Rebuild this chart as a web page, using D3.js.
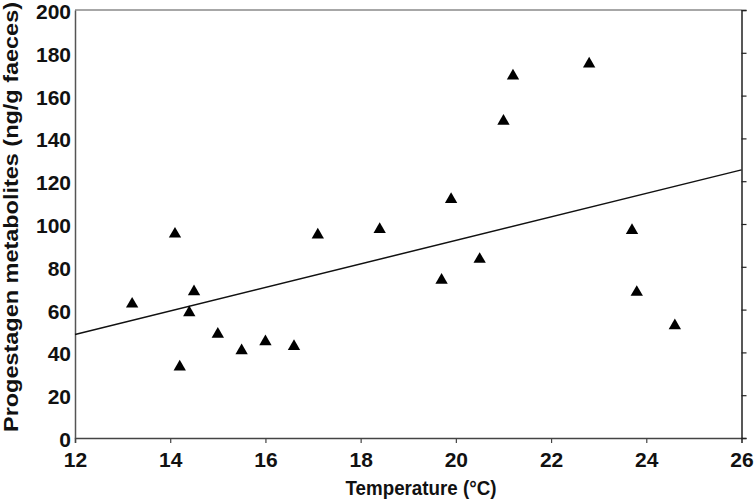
<!DOCTYPE html>
<html>
<head>
<meta charset="utf-8">
<script src="https://cdn.jsdelivr.net/npm/d3@7"></script>
<style>
  body { margin: 0; background: #fff; }
  svg { display: block; font-family: "Liberation Sans", Arial, sans-serif; }
  .tick-label { font-size: 21px; font-weight: bold; fill: #111; }
  .axis-title { font-size: 20px; font-weight: bold; fill: #111; }
</style>
</head>
<body>
<svg id="chart" width="756" height="501"></svg>
<script>
// temperature (°C) per sample
const temps = [13.2, 14.1, 14.2, 14.4, 14.5, 15.0, 15.5, 16.0, 16.6, 17.1,
               18.4, 19.7, 19.9, 20.5, 21.0, 21.2, 22.8, 23.7, 23.8, 24.6];
// progestagen metabolites (ng/g faeces)
const progestagen = [62.6, 95.3, 33.2, 58.6, 68.4, 48.5, 40.8, 45.0, 42.8, 94.9,
                     97.5, 73.8, 111.5, 83.5, 148.1, 169.2, 174.8, 97.0, 68.1, 52.5];
// regression line end values at x = 12 and x = 26
const fitX = [12, 26];
const fitY = [48.4, 125.3];
const xTicks = [12, 14, 16, 18, 20, 22, 24, 26];
const yTicks = [0, 20, 40, 60, 80, 100, 120, 140, 160, 180, 200];

const margin = { top: 10, right: 14, bottom: 63, left: 75 };
const width = 756, height = 501;

const svg = d3.select("#chart");

const x = d3.scaleLinear().domain([12, 26]).range([margin.left, width - margin.right - 0.5]);
const y = d3.scaleLinear().domain([0, 200]).range([height - margin.bottom, margin.top]);

// top frame line (grey)
svg.append("line")
  .attr("x1", x(12)).attr("x2", x(26))
  .attr("y1", y(200)).attr("y2", y(200))
  .attr("stroke", "#8a8a8a").attr("stroke-width", 1.5);

// bottom axis
const xAxis = svg.append("g")
  .attr("transform", `translate(0,${y(0)})`)
  .call(d3.axisBottom(x).tickValues(xTicks).tickSize(5).tickPadding(9).tickFormat(d3.format("d")));
xAxis.select(".domain").attr("stroke", "#444").attr("stroke-width", 1.5);
xAxis.selectAll(".tick line").attr("stroke", "#444").attr("stroke-width", 1.2);
xAxis.selectAll(".tick text").attr("class", "tick-label").attr("font-size", null).attr("font-family", null);

// left axis (labels, no ticks)
const yAxis = svg.append("g")
  .attr("transform", `translate(${x(12)},0)`)
  .call(d3.axisLeft(y).tickValues(yTicks).tickSize(0).tickPadding(4).tickFormat(d3.format("d")));
yAxis.select(".domain").attr("stroke", "#555").attr("stroke-width", 1.5);
yAxis.selectAll(".tick text").attr("class", "tick-label").attr("font-size", null).attr("font-family", null)
  .attr("dy", "0.4em");

// right axis (ticks only)
const yRight = svg.append("g")
  .attr("transform", `translate(${x(26)},0)`)
  .call(d3.axisRight(y).tickValues(yTicks).tickSize(5).tickFormat(""));
yRight.select(".domain").attr("stroke", "#222").attr("stroke-width", 1.5);
yRight.selectAll(".tick line").attr("stroke", "#222").attr("stroke-width", 1.2);

// regression line
svg.append("line")
  .attr("x1", x(fitX[0])).attr("y1", y(fitY[0]))
  .attr("x2", x(fitX[1])).attr("y2", y(fitY[1]))
  .attr("stroke", "#111").attr("stroke-width", 1.5);

// points
svg.append("g")
  .selectAll("path")
  .data(temps.map((t, i) => [t, progestagen[i]]))
  .join("path")
  .attr("transform", d => `translate(${x(d[0])},${y(d[1])})`)
  .attr("d", d3.symbol(d3.symbolTriangle, 66))
  .attr("fill", "#000");

// axis titles
svg.append("text")
  .attr("class", "axis-title")
  .attr("x", 421).attr("y", 495)
  .attr("text-anchor", "middle")
  .attr("textLength", 151)
  .attr("lengthAdjust", "spacingAndGlyphs")
  .text("Temperature (°C)");

svg.append("text")
  .attr("class", "axis-title")
  .attr("transform", "translate(18,217) rotate(-90)")
  .attr("text-anchor", "middle")
  .attr("textLength", 430)
  .attr("lengthAdjust", "spacingAndGlyphs")
  .text("Progestagen metabolites (ng/g faeces)");
</script>
</body>
</html>
